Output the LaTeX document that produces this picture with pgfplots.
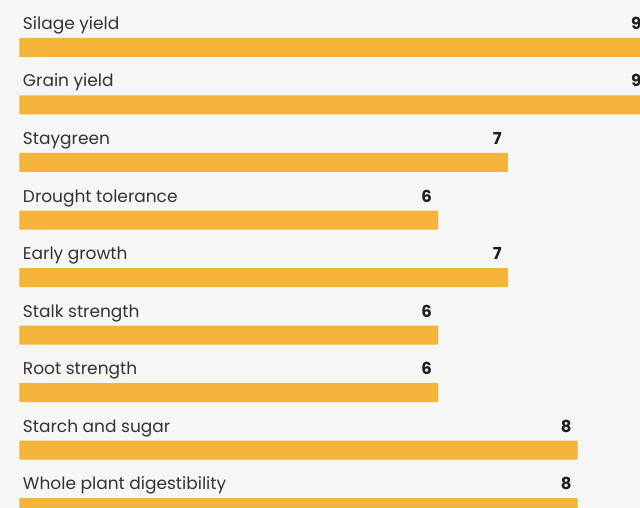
\documentclass[border=0pt]{standalone}
\usepackage{pgfplots}
\pgfplotsset{compat=1.18}
\usepackage{pgfplotstable}
\usepackage{fontspec}
\setmainfont{Poppins}
\definecolor{barc}{HTML}{F4B43A}
\definecolor{bgc}{HTML}{F6F6F6}
\definecolor{txt}{HTML}{333333}
\definecolor{val}{HTML}{1E1E1E}
\pgfplotstableread[col sep=comma]{
y,v,name
47.5,9,Silage yield
105,9,Grain yield
162.5,7,Staygreen
220,6,Drought tolerance
277.5,7,Early growth
335,6,Stalk strength
392.5,6,Root strength
450,8,Starch and sugar
507.5,8,Whole plant digestibility
}\data
\begin{document}
\begin{tikzpicture}
\useasboundingbox (0,0) rectangle (640pt,508pt);
\clip (0,0) rectangle (640pt,508pt);
\begin{axis}[
  at={(0,0)}, anchor=south west,
  width=640pt, height=508pt, scale only axis,
  xmin=-0.2765, xmax=8.8926,
  ymin=0, ymax=508, y dir=reverse,
  axis line style={draw=none}, ticks=none,
  axis background/.style={fill=bgc},
  clip=false,
  /pgf/number format/assume math mode=true,
]
\addplot[xbar, fill=barc, draw=none, bar width=19,
  nodes near coords,
  nodes near coords style={anchor=base east, inner sep=0pt, xshift=-6pt, yshift=18pt,
    font=\fontsize{16.5}{19}\selectfont\bfseries, text=val},
] table[x=v, y=y] {\data};
\addplot[draw=none, mark=none,
  nodes near coords, point meta=explicit symbolic,
  nodes near coords style={anchor=base west, inner sep=0pt, xshift=3.5pt, yshift=18pt,
    font=\fontsize{17}{20}\selectfont, text=txt},
] table[x expr=0, y=y, meta=name] {\data};
\end{axis}
\end{tikzpicture}
\end{document}
